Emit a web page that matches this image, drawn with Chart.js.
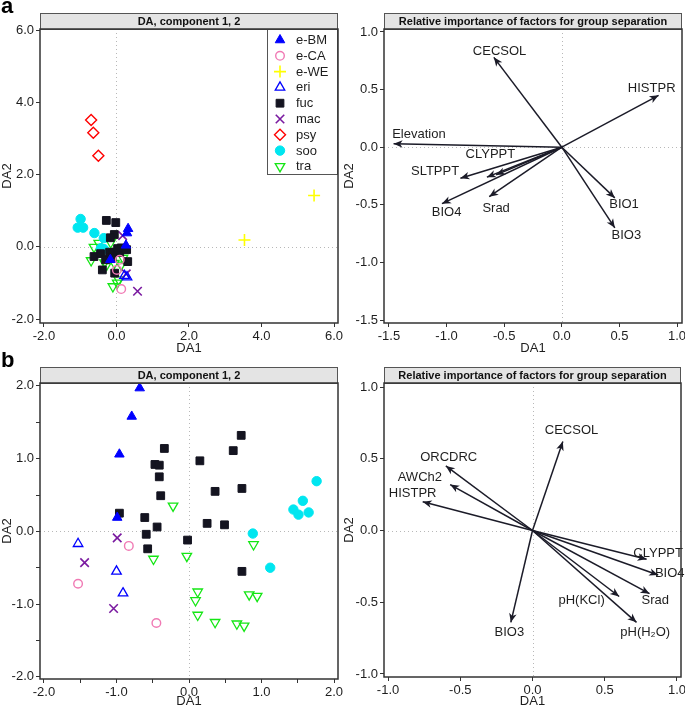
<html>
<head>
<style>
  body { margin: 0; background: #fff; }
  canvas { position: absolute; }
</style>
</head>
<body>
<canvas id="aLeft" width="350" height="356" style="left:0px;top:0px"></canvas>
<canvas id="aRight" width="343" height="356" style="left:342px;top:0px"></canvas>
<canvas id="bLeft" width="350" height="357" style="left:0px;top:352px"></canvas>
<canvas id="bRight" width="343" height="357" style="left:342px;top:352px"></canvas>

<script src="https://cdn.jsdelivr.net/npm/chart.js"></script>
<script>
"use strict";

const FONT = "Arial, 'Liberation Sans', sans-serif";

// ---- panel a, scores ----
const groups = ['e-BM', 'e-CA', 'e-WE', 'eri', 'fuc', 'mac', 'psy', 'soo', 'tra'];

const aBM  = [[0.32, 0.50], [0.29, 0.38], [0.26, 0.04], [-0.17, -0.36]];
const aCA  = [[0.09, -0.36], [0.01, -0.64], [0.13, -1.17]];
const aWE  = [[3.53, 0.19], [5.45, 1.42]];
const aEri = [[0.29, -0.84], [0.22, -0.80]];
const aFuc = [[-0.28, 0.73], [-0.02, 0.67], [-0.06, 0.34], [-0.17, 0.25], [-0.62, -0.27],
              [-0.44, -0.19], [-0.30, -0.36], [-0.39, -0.64], [-0.19, -0.15], [-0.09, -0.16],
              [0.09, -0.16], [0.13, -0.03], [0.28, -0.08], [0.31, -0.41], [-0.05, -0.73],
              [0.03, -0.05], [-0.12, -0.30]];
const aMac = [[0.17, 0.31], [0.27, -0.75], [0.58, -1.23]];
const aPsy = [[-0.70, 3.51], [-0.64, 3.16], [-0.50, 2.52]];
const aSoo = [[-0.99, 0.77], [-1.07, 0.53], [-0.92, 0.53], [-0.61, 0.38], [-0.35, 0.24],
              [-0.43, -0.04], [-0.35, -0.06]];
const aTra = [[-0.62, -0.01], [-0.49, 0.10], [-0.16, 0.12], [-0.70, -0.38], [-0.24, -0.23],
              [-0.27, -0.50], [-0.10, -1.10], [0.06, -0.91], [0.13, -0.50], [0.02, -1.00],
              [0.18, -0.31], [-0.33, -0.44], [-0.06, -0.45]];

// ---- panel b, scores ----
const bBM  = [[-0.68, 1.97], [-0.79, 1.58], [-0.96, 1.06], [-0.99, 0.19]];
const bCA  = [[-0.83, -0.20], [-1.53, -0.72], [-0.45, -1.26]];
const bEri = [[-1.53, -0.17], [-1.00, -0.55], [-0.91, -0.85]];
const bFuc = [[-0.34, 1.14], [-0.47, 0.92], [-0.41, 0.91], [-0.41, 0.75], [-0.39, 0.49],
              [-0.96, 0.25], [-0.61, 0.19], [-0.59, -0.04], [-0.57, -0.24], [-0.44, 0.06],
              [-0.02, -0.12], [0.15, 0.97], [0.36, 0.55], [0.25, 0.11], [0.49, 0.09],
              [0.61, 1.11], [0.72, 1.32], [0.73, 0.59], [0.73, -0.55]];
const bMac = [[-0.99, -0.09], [-1.44, -0.43], [-1.04, -1.06]];
const bSoo = [[1.76, 0.69], [1.57, 0.42], [1.44, 0.30], [1.51, 0.23], [1.65, 0.26],
              [0.88, -0.03], [1.12, -0.50]];
const bTra = [[-0.22, 0.35], [-0.49, -0.38], [-0.03, -0.34], [0.12, -0.83], [0.09, -0.95],
              [0.12, -1.15], [0.36, -1.25], [0.66, -1.27], [0.76, -1.30], [0.83, -0.87],
              [0.94, -0.89], [0.89, -0.18]];

// ---- loadings (arrows) ----
const aFactors = ['CECSOL', 'HISTPR', 'Elevation', 'CLYPPT', '', 'SLTPPT', 'BIO4', 'Srad', 'BIO1', 'BIO3'];
const aTipX    = [-0.59, 0.84, -1.46, -0.65, -0.57, -0.88, -1.04, -0.63, 0.46, 0.46];
const aTipY    = [0.78, 0.45, 0.03, -0.26, -0.24, -0.27, -0.49, -0.43, -0.44, -0.70];
const aLabX    = [-0.54, 0.78, -1.24, -0.62, 0, -1.10, -1.00, -0.57, 0.54, 0.56];
const aLabY    = [0.83, 0.51, 0.11, -0.06, 0, -0.21, -0.57, -0.53, -0.50, -0.77];

const bFactors = ['CECSOL', 'ORCDRC', 'AWCh2', 'HISTPR', 'CLYPPT', 'BIO4', 'Srad', 'pH(KCl)', 'pH(H\u2082O)', 'BIO3'];
const bTipX    = [0.21, -0.60, -0.57, -0.76, 0.79, 0.87, 0.81, 0.60, 0.72, -0.15];
const bTipY    = [0.62, 0.45, 0.32, 0.20, -0.20, -0.31, -0.44, -0.46, -0.64, -0.64];
const bLabX    = [0.27, -0.58, -0.78, -0.83, 0.87, 0.95, 0.85, 0.34, 0.78, -0.16];
const bLabY    = [0.70, 0.51, 0.37, 0.26, -0.16, -0.30, -0.49, -0.49, -0.71, -0.71];

// ---- ticks ----
const aLeftTicks  = ['-2.0', '0.0', '2.0', '4.0', '6.0'];
const aRightX     = ['-1.5', '-1.0', '-0.5', '0.0', '0.5', '1.0'];
const aRightY     = ['-1.5', '-1.0', '-0.5', '0.0', '0.5', '1.0'];
const bLeftTicks  = ['-2.0', '', '-1.0', '', '0.0', '', '1.0', '', '2.0'];
const bLeftVals   = [-2, -1.5, -1, -0.5, 0, 0.5, 1, 1.5, 2];
const bRightTicks = ['-1.0', '-0.5', '0.0', '0.5', '1.0'];

const styles = {
  'e-BM': { pointStyle: 'triangle', backgroundColor: '#0000ff', borderColor: '#0000ff', pointRadius: 5.5, borderWidth: 1 },
  'e-CA': { pointStyle: 'circle', backgroundColor: 'rgba(0,0,0,0)', borderColor: '#f07ab4', pointRadius: 4.3, borderWidth: 1.4 },
  'e-WE': { pointStyle: 'cross', backgroundColor: 'rgba(0,0,0,0)', borderColor: '#ffff00', pointRadius: 6, borderWidth: 1.6 },
  'eri':  { pointStyle: 'triangle', backgroundColor: 'rgba(0,0,0,0)', borderColor: '#0000ff', pointRadius: 5.5, borderWidth: 1.3 },
  'fuc':  { pointStyle: 'rect', backgroundColor: '#141420', borderColor: '#141420', pointRadius: 5.5, borderWidth: 1 },
  'mac':  { pointStyle: 'crossRot', backgroundColor: 'rgba(0,0,0,0)', borderColor: '#7a1aa0', pointRadius: 6, borderWidth: 1.6 },
  'psy':  { pointStyle: 'rectRot', backgroundColor: 'rgba(0,0,0,0)', borderColor: '#ff0000', pointRadius: 5.5, borderWidth: 1.4 },
  'soo':  { pointStyle: 'circle', backgroundColor: '#00e6f0', borderColor: '#00e6f0', pointRadius: 4.7, borderWidth: 1 },
  'tra':  { pointStyle: 'triangle', rotation: 180, backgroundColor: 'rgba(0,0,0,0)', borderColor: '#14e614', pointRadius: 5.5, borderWidth: 1.3 }
};

function scatterSet(name, pts) {
  const s = styles[name];
  return Object.assign({
    label: name,
    data: pts.map(p => ({ x: p[0], y: p[1] })),
    pointBorderWidth: s.borderWidth,
    pointRotation: s.rotation || 0
  }, s);
}

function arrowSets(tx, ty) {
  return tx.map((x, i) => ({
    label: 'arrow' + i,
    data: [{ x: 0, y: 0 }, { x: x, y: ty[i] }],
    showLine: true,
    borderColor: '#1b1b28',
    borderWidth: 1.5,
    pointRadius: 0
  }));
}

const panelPlugin = {
  id: 'panel',
  beforeDatasetsDraw(chart, args, opts) {
    const { ctx, chartArea: a, scales: { x, y } } = chart;
    ctx.save();
    ctx.strokeStyle = '#b8b8b8';
    ctx.lineWidth = 1;
    ctx.setLineDash([1, 3]);
    const x0 = Math.round(x.getPixelForValue(0)) + 0.5;
    const y0 = Math.round(y.getPixelForValue(0)) + 0.5;
    ctx.beginPath();
    ctx.moveTo(x0, a.top); ctx.lineTo(x0, a.bottom);
    ctx.moveTo(a.left, y0); ctx.lineTo(a.right, y0);
    ctx.stroke();
    ctx.restore();
  },
  afterDatasetsDraw(chart, args, opts) {
    const { ctx, scales: { x, y } } = chart;
    ctx.save();
    if (opts.tipX) {
      const ox = x.getPixelForValue(0), oy = y.getPixelForValue(0);
      opts.tipX.forEach((tx, i) => {
        const px = x.getPixelForValue(tx), py = y.getPixelForValue(opts.tipY[i]);
        const ang = Math.atan2(py - oy, px - ox);
        ctx.save();
        ctx.translate(px, py);
        ctx.rotate(ang);
        ctx.fillStyle = '#1b1b28';
        ctx.beginPath();
        ctx.moveTo(0, 0);
        ctx.lineTo(-9, -3.8);
        ctx.lineTo(-6.5, 0);
        ctx.lineTo(-9, 3.8);
        ctx.closePath();
        ctx.fill();
        ctx.restore();
      });
      ctx.fillStyle = '#1e1e1e';
      ctx.font = '13px ' + FONT;
      ctx.textAlign = 'center';
      ctx.textBaseline = 'middle';
      opts.names.forEach((n, i) => {
        if (n) ctx.fillText(n, x.getPixelForValue(opts.labX[i]), y.getPixelForValue(opts.labY[i]));
      });
    }
    if (opts.legend) {
      const a = chart.chartArea;
      const w = 71, h = 146;
      const l = a.right - w, t = a.top;
      ctx.fillStyle = '#fff';
      ctx.fillRect(l, t, w, h);
      ctx.strokeStyle = '#555';
      ctx.lineWidth = 1;
      ctx.strokeRect(l + 0.5, t + 0.5, w - 1, h - 1);
      ctx.font = '13px ' + FONT;
      ctx.textAlign = 'left';
      ctx.textBaseline = 'middle';
      chart.data.datasets.forEach((ds, i) => {
        const cy = t + 11 + i * 15.8;
        ctx.fillStyle = ds.backgroundColor;
        ctx.strokeStyle = ds.borderColor;
        ctx.lineWidth = ds.pointBorderWidth;
        Chart.helpers.drawPoint(ctx, {
          pointStyle: ds.pointStyle, rotation: ds.pointRotation,
          radius: ds.pointRadius, borderWidth: ds.pointBorderWidth
        }, l + 13, cy);
        ctx.fillStyle = '#1e1e1e';
        ctx.fillText(ds.label, l + 29, cy + 0.5);
      });
    }
    ctx.restore();
  },
  afterDraw(chart, args, opts) {
    const { ctx, chartArea: a } = chart;
    ctx.save();
    // title strip
    ctx.fillStyle = '#e4e4e4';
    ctx.fillRect(a.left, a.top - 16, a.right - a.left, 16);
    ctx.strokeStyle = '#555';
    ctx.lineWidth = 1;
    ctx.strokeRect(a.left + 0.5, a.top - 15.5, a.right - a.left - 1, 16);
    ctx.fillStyle = '#111';
    ctx.font = 'bold 11px ' + FONT;
    ctx.textAlign = 'center';
    ctx.textBaseline = 'middle';
    ctx.fillText(opts.title, (a.left + a.right) / 2, a.top - 7.5);
    // frame
    ctx.strokeStyle = '#333';
    ctx.lineWidth = 1.5;
    ctx.strokeRect(a.left, a.top, a.right - a.left, a.bottom - a.top);
    if (opts.letter) {
      ctx.fillStyle = '#000';
      ctx.font = 'bold 22px ' + FONT;
      ctx.textAlign = 'left';
      ctx.textBaseline = 'alphabetic';
      ctx.fillText(opts.letter, 1, opts.letterY);
    }
    ctx.restore();
  }
};

function axis(labels, vals, min, max, title, size, horizontal) {
  return {
    type: 'linear', min: min, max: max,
    border: { display: false },
    grid: { drawOnChartArea: false, drawTicks: true, tickLength: 4, tickColor: '#333', tickWidth: 1 },
    ticks: {
      autoSkip: false, maxRotation: 0, padding: 2, color: '#1e1e1e',
      font: { family: FONT, size: 13 },
      callback: (v) => { const i = vals.indexOf(v); return i < 0 ? '' : labels[i]; }
    },
    afterBuildTicks: (s) => { s.ticks = vals.map(v => ({ value: v })); },
    afterFit: (s) => {
      if (horizontal) s.height = size; else s.width = size;
      s.paddingLeft = 0; s.paddingRight = 0; s.paddingTop = 0; s.paddingBottom = 0;
    },
    title: { display: true, text: title, color: '#1e1e1e', font: { family: FONT, size: 13 }, padding: 0 }
  };
}

function makeChart(id, datasets, pad, xAxis, yAxis, panel) {
  return new Chart(document.getElementById(id), {
    type: 'scatter',
    data: { datasets: datasets },
    options: {
      responsive: false, animation: false, events: [],
      layout: { padding: pad },
      plugins: { legend: { display: false }, tooltip: { enabled: false }, panel: panel },
      scales: { x: xAxis, y: yAxis }
    },
    plugins: [panelPlugin]
  });
}

const num = (arr) => arr.map(s => parseFloat(s));

makeChart('aLeft',
  [scatterSet('e-BM', aBM), scatterSet('e-CA', aCA), scatterSet('e-WE', aWE), scatterSet('eri', aEri),
   scatterSet('fuc', aFuc), scatterSet('mac', aMac), scatterSet('psy', aPsy), scatterSet('soo', aSoo),
   scatterSet('tra', aTra)],
  { left: 0, right: 12, top: 29, bottom: 0 },
  axis(aLeftTicks, num(aLeftTicks), -2.11, 6.11, 'DA1', 33, true),
  axis(aLeftTicks, num(aLeftTicks), -2.11, 6.03, 'DA2', 40, false),
  { title: 'DA, component 1, 2', legend: true, letter: 'a', letterY: 13 });

makeChart('aRight', arrowSets(aTipX, aTipY),
  { left: 0, right: 3, top: 29, bottom: 0 },
  axis(aRightX, num(aRightX), -1.543, 1.043, 'DA1', 33, true),
  axis(aRightY, num(aRightY), -1.526, 1.026, 'DA2', 42, false),
  { title: 'Relative importance of factors for group separation',
    tipX: aTipX, tipY: aTipY, names: aFactors, labX: aLabX, labY: aLabY });

makeChart('bLeft',
  [scatterSet('e-BM', bBM), scatterSet('e-CA', bCA), scatterSet('eri', bEri), scatterSet('fuc', bFuc),
   scatterSet('mac', bMac), scatterSet('soo', bSoo), scatterSet('tra', bTra)],
  { left: 0, right: 12, top: 31, bottom: 0 },
  axis(bLeftTicks, bLeftVals, -2.055, 2.055, 'DA1', 30, true),
  axis(bLeftTicks, bLeftVals, -2.03, 2.04, 'DA2', 40, false),
  { title: 'DA, component 1, 2', letter: 'b', letterY: 15 });

makeChart('bRight', arrowSets(bTipX, bTipY),
  { left: 0, right: 4, top: 31, bottom: 0 },
  axis(bRightTicks, num(bRightTicks), -1.028, 1.028, 'DA1', 32, true),
  axis(bRightTicks, num(bRightTicks), -1.021, 1.028, 'DA2', 42, false),
  { title: 'Relative importance of factors for group separation',
    tipX: bTipX, tipY: bTipY, names: bFactors, labX: bLabX, labY: bLabY });
</script>
</body>
</html>
